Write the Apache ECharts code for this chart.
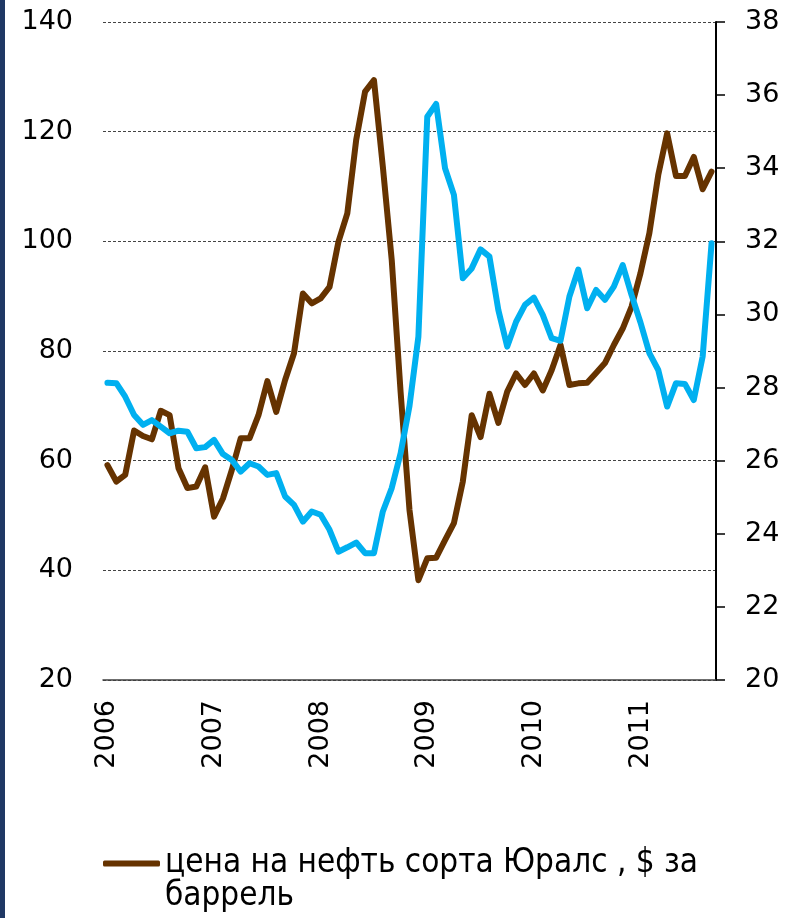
<!DOCTYPE html>
<html>
<head>
<meta charset="UTF-8">
<script src="https://cdn.jsdelivr.net/npm/echarts@6/dist/echarts.min.js"></script>
<style type="text/css">
html, body {
	margin: 0;
	padding: 0;
	background: #fff;
}
#main {
	width: 794px;
	height: 918px;
}
</style>
</head>
<body>
	<div id="main"></div>
	<script type="text/javascript">
		// месяцы янв.2006 - сен.2011
		var months = [];
		for (var y = 2006; y <= 2011; y++) {
			for (var m = 1; m <= 12; m++) {
				if (y == 2011 && m > 9) break;
				months.push(y + '-' + (m < 10 ? '0' + m : m));
			}
		}

		// цена Юралс, $ за баррель (левая ось)
		var uralsPrice = [
			59.2, 56.2, 57.4, 65.5, 64.5, 63.9, 69.1, 68.3, 58.6, 55.0, 55.3, 58.8,
			49.8, 53.1, 58.3, 64.1, 64.1, 68.3, 74.5, 68.9, 74.7, 79.6, 90.5, 88.7,
			89.6, 91.7, 99.9, 105.1, 118.5, 127.3, 129.4, 113.6, 96.6, 72.5, 51.0, 38.2,
			42.2, 42.3, 45.5, 48.6, 56.2, 68.3, 64.3, 72.2, 66.9, 72.6, 75.9, 73.8,
			75.9, 72.8, 76.5, 81.1, 73.8, 74.1, 74.2, 76.0, 77.8, 81.1, 84.1, 88.1,
			94.2, 101.5, 112.1, 119.7, 111.9, 111.9, 115.4, 109.5, 112.7
		];

		// курс рубля (правая ось)
		var usdRub = [
			28.13, 28.12, 27.75, 27.25, 26.98, 27.11, 26.93, 26.75, 26.82, 26.79, 26.34, 26.37,
			26.57, 26.18, 26.02, 25.70, 25.93, 25.84, 25.61, 25.66, 25.02, 24.79, 24.33, 24.61,
			24.52, 24.11, 23.51, 23.63, 23.76, 23.47, 23.47, 24.61, 25.25, 26.20, 27.50, 29.39,
			35.41, 35.76, 34.00, 33.27, 30.99, 31.26, 31.78, 31.58, 30.12, 29.12, 29.80, 30.26,
			30.46, 29.99, 29.35, 29.28, 30.49, 31.23, 30.17, 30.67, 30.40, 30.76, 31.35, 30.53,
			29.78, 28.94, 28.48, 27.48, 28.12, 28.10, 27.66, 28.85, 31.95
		];

		var leftTicks = { min: 20, max: 140, interval: 20 };
		var rightTicks = { min: 20, max: 38, interval: 2 };

		var nameOil = 'цена на нефть сорта Юралс , $ за баррель';
		var nameRub = 'курс рубля к доллару';

		var labelFont = { fontFamily: 'DejaVu Sans', fontSize: 27, color: '#000' };

		var myChart = echarts.init(document.getElementById('main'));
		var option = {
			animation: false,
			backgroundColor: '#fff',
			graphic: [{
				type: 'rect',
				shape: { x: 0, y: 0, width: 5, height: 918 },
				style: { fill: '#1F3864' }
			}],
			grid: { left: 103, right: 78, top: 22, bottom: 238 },
			legend: {
				data: [nameOil],
				left: 103,
				top: 814,
				padding: 0,
				icon: 'roundRect',
				itemWidth: 57,
				itemHeight: 6,
				// пустая первая строка - чтобы значок стоял у первой строки текста
				formatter: function (name) {
					return ' \nцена на нефть сорта Юралс , $ за\nбаррель';
				},
				textStyle: {
					fontFamily: "'Liberation Sans Narrow', 'DejaVu Sans Condensed', sans-serif",
					fontSize: 33,
					lineHeight: 33,
					color: '#000'
				}
			},
			xAxis: {
				type: 'category',
				data: months,
				boundaryGap: true,
				axisLine: { lineStyle: { color: '#404040', width: 1.5 } },
				axisTick: { interval: 11, length: 9, lineStyle: { color: '#404040', width: 1.5 } },
				axisLabel: {
					interval: 11,
					rotate: 90,
					margin: 20,
					fontFamily: labelFont.fontFamily,
					fontSize: labelFont.fontSize,
					color: labelFont.color,
					formatter: function (v) { return v.slice(0, 4); }
				},
				splitLine: { show: false }
			},
			yAxis: [{
				type: 'value',
				position: 'left',
				min: leftTicks.min,
				max: leftTicks.max,
				interval: leftTicks.interval,
				axisLine: { show: false },
				axisTick: { show: false },
				axisLabel: {
					margin: 30,
					fontFamily: labelFont.fontFamily,
					fontSize: labelFont.fontSize,
					color: labelFont.color
				},
				splitLine: { lineStyle: { color: '#444', width: 1, type: [3, 2] } }
			}, {
				type: 'value',
				position: 'right',
				min: rightTicks.min,
				max: rightTicks.max,
				interval: rightTicks.interval,
				axisLine: { show: true, lineStyle: { color: '#000', width: 2 } },
				axisTick: { show: true, length: 9, lineStyle: { color: '#000', width: 1.5 } },
				axisLabel: {
					margin: 29,
					fontFamily: labelFont.fontFamily,
					fontSize: labelFont.fontSize,
					color: labelFont.color
				},
				splitLine: { show: false }
			}],
			series: [{
				name: nameOil,
				type: 'line',
				yAxisIndex: 0,
				data: uralsPrice,
				showSymbol: false,
				symbol: 'none',
				itemStyle: { color: '#663300' },
				lineStyle: { color: '#663300', width: 6, cap: 'round', join: 'round' }
			}, {
				name: nameRub,
				type: 'line',
				yAxisIndex: 1,
				data: usdRub,
				showSymbol: false,
				symbol: 'none',
				itemStyle: { color: '#00B0F0' },
				lineStyle: { color: '#00B0F0', width: 6, cap: 'round', join: 'round' }
			}]
		};
		myChart.setOption(option);
	</script>
</body>
</html>
